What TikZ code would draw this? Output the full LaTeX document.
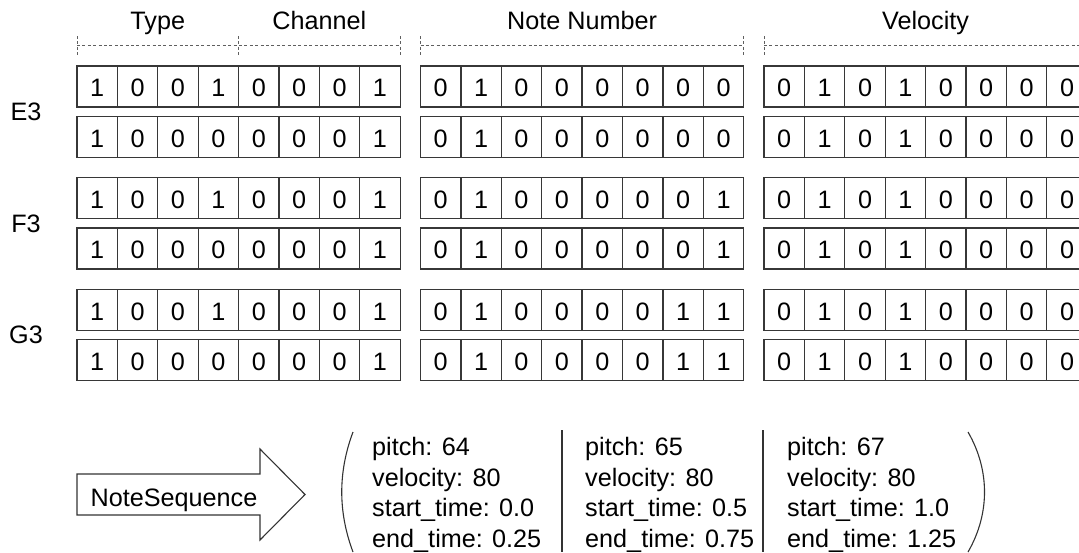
\documentclass[tikz,border=0pt]{standalone}
\usepackage{fontspec}
\setmainfont{Liberation Sans}
\usetikzlibrary{calc}
\definecolor{CellLine}{RGB}{55,55,55}
\definecolor{DashGray}{RGB}{95,95,95}
\tikzset{
	bit/.style={draw=CellLine,line width=1.25pt,minimum width=40.4pt,minimum height=41pt,
		inner sep=0pt,outer sep=0pt,text height=20.6pt,text depth=0pt},
	brk/.style={draw=DashGray,line width=0.9pt,dash pattern=on 3pt off 2.4pt},
	head/.style={anchor=base,inner sep=0pt},
	fields/.style={align=left,anchor=north west,inner sep=0pt},
	curve/.style={draw=black!80,line width=1.1pt},
}

\begin{document}
\begin{tikzpicture}[x=1pt,y=-1pt,font=\fontsize{25.2pt}{30.7pt}\selectfont]
	\useasboundingbox (0,0) rectangle (1079,552);
	% bit rows: type+channel, note number, velocity
	\foreach \r/\y/\bits in {
		1/86.5/{1,0,0,1,0,0,0,1,0,1,0,0,0,0,0,0,0,1,0,1,0,0,0,0},
		2/136.9/{1,0,0,0,0,0,0,1,0,1,0,0,0,0,0,0,0,1,0,1,0,0,0,0},
		3/198.2/{1,0,0,1,0,0,0,1,0,1,0,0,0,0,0,1,0,1,0,1,0,0,0,0},
		4/248.6/{1,0,0,0,0,0,0,1,0,1,0,0,0,0,0,1,0,1,0,1,0,0,0,0},
		5/309.9/{1,0,0,1,0,0,0,1,0,1,0,0,0,0,1,1,0,1,0,1,0,0,0,0},
		6/360.3/{1,0,0,0,0,0,0,1,0,1,0,0,0,0,1,1,0,1,0,1,0,0,0,0}}{
		\foreach \b [count=\i] in \bits {
			\pgfmathsetmacro{\cx}{77+343.5*int((\i-1)/8)+40.4*(mod(\i-1,8)+0.5)}
			\node[bit] (b\r-\i) at (\cx,\y) {\b};
		}
	}
	\node (lE3) at (26,111.7) {E3};
	\node (lF3) at (26,223.4) {F3};
	\node (lG3) at (26,335.1) {G3};
	% field headers
	\node[head] (hType) at (b1-2.east |- 0,29.3) {Type};
	\node[head] (hChan) at (b1-6.east |- 0,29.3) {Channel};
	\node[head] (hNote) at (b1-12.east |- 0,29.3) {Note Number};
	\node[head] (hVel) at (b1-20.east |- 0,29.3) {Velocity};
	\foreach \a/\z in {1/8,9/16,17/24}
		\draw[brk] (b1-\a.west |- 0,45) -- (b1-\z.east |- 0,45);
	\foreach \t in {1.west,4.east,8.east,9.west,16.east,17.west}
		\draw[brk] (b1-\t |- 0,36) -- (b1-\t |- 0,55);
	% note sequence
	\draw[curve] (77,474) -- (260,474) -- (260,449) -- (305,494.5) -- (260,540) -- (260,515) -- (77,515) -- cycle;
	\node[head] (seq) at (174,506) {NoteSequence};
	\foreach \n/\x/\p/\s/\e in {1/372/64/0.0/0.25,2/585/65/0.5/0.75,3/787/67/1.0/1.25}
		\node[fields] (note\n) at (\x,437) {pitch: \p\\velocity: 80\\start\_time: \s\\end\_time: \e};
	\draw[curve] (353,432) .. controls (338,472) and (338,512) .. (353,552);
	\draw[curve] (968,432) .. controls (990,470) and (990,514) .. (968,552);
	\draw[curve] (562,430) -- (562,552);
	\draw[curve] (763,430) -- (763,552);
\end{tikzpicture}
\end{document}
